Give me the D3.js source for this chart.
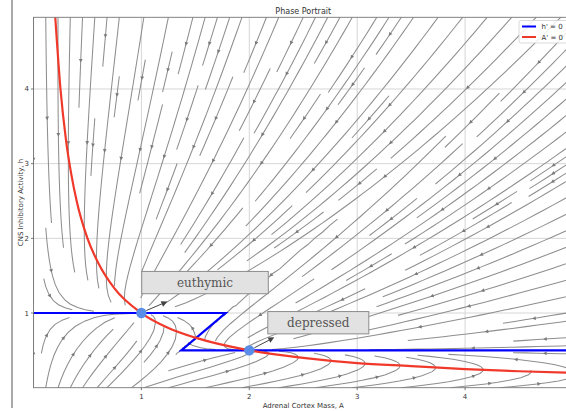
<!DOCTYPE html>
<html>
<head>
<meta charset="utf-8">
<script src="https://cdn.jsdelivr.net/npm/d3@7"></script>
<style>
  body { margin: 0; background: #fff; }
  svg { display: block; }
  text { font-family: "DejaVu Sans", sans-serif; fill: #333; }
</style>
</head>
<body>
<svg id="chart" width="566" height="411"></svg>
<script>
// ---- tick values ----
const xTicks = [1, 2, 3, 4];
const yTicks = [1, 2, 3, 4];
const xDomain = [0, 5];
const yDomain = [0, 4.96];

// ---- h' = 0 nullcline (hysteretic switch) ----
const hNullA = [0, 1.78, 1.37, 5];
const hNullH = [1, 1, 0.5, 0.5];

// ---- A' = 0 nullcline samples ----
const aNullA = [0.2, 0.25, 0.3, 0.35, 0.4, 0.5, 0.6, 0.75, 1, 1.25, 1.5, 2, 2.5, 3, 3.5, 4, 4.5, 5];
const aNullH = [5, 4, 3.33, 2.86, 2.5, 2, 1.67, 1.33, 1, 0.8, 0.67, 0.5, 0.4, 0.33, 0.29, 0.25, 0.22, 0.2];

// ---- steady states ----
const fixedA = [1, 2];
const fixedH = [1, 0.5];
const fixedLabels = ["euthymic", "depressed"];

// ---- legend ----
const legendLabels = ["h' = 0", "A' = 0"];
const legendColors = ["#0000ff", "#f0392b"];

// ---- model parameters ----
const hHigh = 1, hLow = 0.5;                    // the two inhibitory levels
const switchAtLow = 1.37, switchAtHigh = 1.78;  // switching mass at h = 0.5 / h = 1
const gainH = 1.7;                              // coupling of the h relaxation to A*h

function velocity(A, h) {
  const dA = A * (1 - A * h);
  const thr = switchAtLow + (switchAtHigh - switchAtLow) * (h - hLow) / (hHigh - hLow);
  const target = A < thr ? hHigh : hLow;
  const dh = (1 + gainH * A * h) * (target - h);
  return [dA, dh];
}

// ---- layout ----
const PL = 33.5, PR = 573, PT = 17.3, PB = 387.7;
const x = d3.scaleLinear().domain(xDomain).range([PL, PR]);
const y = d3.scaleLinear().domain(yDomain).range([PB, PT]);

const svg = d3.select("#chart");

// notebook cell border
svg.append("line").attr("x1", 12).attr("x2", 12).attr("y1", 0).attr("y2", 408)
  .attr("stroke", "#555").attr("stroke-width", 1);

svg.append("defs").append("clipPath").attr("id", "plotclip").append("rect")
  .attr("x", PL).attr("y", PT).attr("width", PR - PL).attr("height", PB - PT);

// grid
const grid = svg.append("g");
grid.selectAll(".gx").data(xTicks).join("line")
  .attr("x1", d => x(d)).attr("x2", d => x(d)).attr("y1", PT).attr("y2", PB)
  .attr("stroke", "#d6d6d6").attr("stroke-width", 1);
grid.selectAll(".gy").data(yTicks).join("line")
  .attr("x1", PL).attr("x2", PR).attr("y1", d => y(d)).attr("y2", d => y(d))
  .attr("stroke", "#d6d6d6").attr("stroke-width", 1);

// ---- streamplot (same seeding/mask scheme as matplotlib) ----
function streamplot(vel, x0, x1, y0, y1, density) {
  const nx = 100, ny = 100;
  const Wd = x1 - x0, Hd = y1 - y0;
  const mnx = Math.floor(30 * density), mny = Math.floor(30 * density);
  const mask = new Uint8Array(mnx * mny);
  const gx2m = (mnx - 1) / (nx - 1), gy2m = (mny - 1) / (ny - 1);
  const minlength = 0.1, maxlength = 4.0;
  let traj = [], cur = null;
  const OOB = { t: "oob" }, TERM = { t: "term" }, INV = { t: "inv" };
  const within = (xg, yg) => xg >= 0 && xg <= nx - 1 && yg >= 0 && yg <= ny - 1;
  const g2m = (xg, yg) => [Math.round(xg * gx2m), Math.round(yg * gy2m)];

  function updateTraj(xg, yg) {
    if (!within(xg, yg)) throw INV;
    const [xm, ym] = g2m(xg, yg);
    if (!cur || cur[0] !== xm || cur[1] !== ym) {
      const k = ym * mnx + xm;
      if (mask[k] === 0) { traj.push(k); mask[k] = 1; cur = [xm, ym]; }
      else throw INV;
    }
  }
  function fwd(xg, yg) {
    if (!within(xg, yg)) throw OOB;
    const A = x0 + xg * Wd / (nx - 1), h = y0 + yg * Hd / (ny - 1);
    const [u, v] = vel(A, h);
    const ug = u * (nx - 1) / Wd, vg = v * (ny - 1) / Hd;
    const sp = Math.hypot(ug / (nx - 1), vg / (ny - 1));
    if (!(sp > 0) || !isFinite(sp)) throw TERM;
    return [ug / sp, vg / sp];
  }
  const bwd = (xg, yg) => { const r = fwd(xg, yg); return [-r[0], -r[1]]; };

  function euler(pts, f) {
    const [xi, yi] = pts[pts.length - 1];
    const [cx, cy] = f(xi, yi);
    const dsx = cx === 0 ? Infinity : (cx < 0 ? xi / -cx : (nx - 1 - xi) / cx);
    const dsy = cy === 0 ? Infinity : (cy < 0 ? yi / -cy : (ny - 1 - yi) / cy);
    const ds = Math.min(dsx, dsy);
    pts.push([xi + cx * ds, yi + cy * ds]);
    return ds;
  }
  function rk12(xs, ys, f) {
    const maxerror = 0.003;
    const maxds = Math.min(1 / mnx, 1 / mny, 0.1);
    let ds = maxds, stotal = 0, xi = xs, yi = ys, iter = 0;
    const pts = [];
    while (iter++ < 20000) {
      let k1, k2;
      try {
        if (within(xi, yi)) pts.push([xi, yi]); else throw OOB;
        k1 = f(xi, yi);
        k2 = f(xi + ds * k1[0], yi + ds * k1[1]);
      } catch (e) {
        if (e === OOB && pts.length) {
          try { stotal += euler(pts, f); } catch (e2) {}
        }
        break;
      }
      const dx1 = ds * k1[0], dy1 = ds * k1[1];
      const dx2 = ds * 0.5 * (k1[0] + k2[0]), dy2 = ds * 0.5 * (k1[1] + k2[1]);
      const err = Math.hypot((dx2 - dx1) / (nx - 1), (dy2 - dy1) / (ny - 1));
      if (err < maxerror) {
        xi += dx2; yi += dy2;
        try { updateTraj(xi, yi); } catch (e) { break; }
        if (stotal + ds > maxlength) break;
        stotal += ds;
      }
      ds = err === 0 ? maxds : Math.min(maxds, 0.85 * ds * Math.sqrt(maxerror / err));
    }
    return [stotal, pts];
  }
  function integrate(xg, yg) {
    traj = [];
    try { updateTraj(xg, yg); } catch (e) { return null; }
    let stotal = 0;
    const [s1, b] = rk12(xg, yg, bwd);
    stotal += s1;
    let pts = b.slice().reverse();
    cur = g2m(xg, yg);
    const [s2, f] = rk12(xg, yg, fwd);
    stotal += s2;
    pts = pts.concat(f.slice(1));
    if (stotal > minlength) return pts;
    for (const k of traj) mask[k] = 0;
    return null;
  }
  function* startPoints(nxm, nym) {
    let xfirst = 0, yfirst = 1, xlast = nxm - 1, ylast = nym - 1;
    let px = 0, py = 0, dir = "right";
    for (let i = 0; i < nxm * nym; i++) {
      yield [px, py];
      if (dir === "right") { px += 1; if (px >= xlast) { xlast -= 1; dir = "up"; } }
      else if (dir === "up") { py += 1; if (py >= ylast) { ylast -= 1; dir = "left"; } }
      else if (dir === "left") { px -= 1; if (px <= xfirst) { xfirst += 1; dir = "down"; } }
      else { py -= 1; if (py <= yfirst) { yfirst += 1; dir = "right"; } }
    }
  }
  const out = [];
  for (const [xm, ym] of startPoints(mnx, mny)) {
    if (mask[ym * mnx + xm] === 0) {
      const xg = xm * (nx - 1) / (mnx - 1), yg = ym * (ny - 1) / (mny - 1);
      const t = integrate(xg, yg);
      if (t) out.push(t.map(([a, b]) => [x0 + a * Wd / (nx - 1), y0 + b * Hd / (ny - 1)]));
    }
  }
  return out;
}

const lines = streamplot(velocity, xDomain[0], xDomain[1], yDomain[0], yDomain[1], 1.5);

const plot = svg.append("g").attr("clip-path", "url(#plotclip)");
const lineGen = d3.line().x(d => x(d[0])).y(d => y(d[1]));

plot.append("g").selectAll("path").data(lines).join("path")
  .attr("d", lineGen)
  .attr("fill", "none").attr("stroke", "#8e8e8e").attr("stroke-width", 1.05);

// arrowheads at mid arc length
const heads = [];
for (const t of lines) {
  if (t.length < 2) continue;
  const s = [];
  let acc = 0;
  for (let i = 1; i < t.length; i++) {
    acc += Math.hypot(t[i][0] - t[i - 1][0], t[i][1] - t[i - 1][1]);
    s.push(acc);
  }
  let n = d3.bisectLeft(s, acc / 2);
  n = Math.min(n, t.length - 2);
  const tail = t[n];
  const head = [(t[n][0] + t[n + 1][0]) / 2, (t[n][1] + t[n + 1][1]) / 2];
  heads.push({ tail, head });
}
plot.append("g").selectAll("path").data(heads).join("path")
  .attr("d", d => {
    const tx = x(d.tail[0]), ty = y(d.tail[1]), hx = x(d.head[0]), hy = y(d.head[1]);
    let dx = hx - tx, dy = hy - ty;
    const L = Math.hypot(dx, dy) || 1;
    dx /= L; dy /= L;
    const len = 3.6, hw = 1.9;
    const bx = hx - dx * len, by = hy - dy * len;
    return `M${hx},${hy}L${bx - dy * hw},${by + dx * hw}L${bx + dy * hw},${by - dx * hw}Z`;
  })
  .attr("fill", "#7a7a7a");

// nullclines
const hNull = hNullA.map((a, i) => [a, hNullH[i]]);
const aNull = aNullA.map((a, i) => [a, aNullH[i]]);
plot.append("path").datum(hNull).attr("d", lineGen)
  .attr("fill", "none").attr("stroke", legendColors[0]).attr("stroke-width", 2.2);
plot.append("path").datum(aNull)
  .attr("d", d3.line().x(d => x(d[0])).y(d => y(d[1])).curve(d3.curveMonotoneX))
  .attr("fill", "none").attr("stroke", legendColors[1]).attr("stroke-width", 2.2);

// steady states
plot.selectAll(".fp").data(fixedA).join("circle")
  .attr("cx", d => x(d)).attr("cy", (d, i) => y(fixedH[i])).attr("r", 5.2)
  .attr("fill", "#5a8de8");

// annotations: box offsets relative to each state
const boxes = [
  { w: 126.6, h: 22.3, dx: 0.3, dy: -41.6, ax: 5, ay: -2.5, hx: 26, hy: -11.5 },
  { w: 101, h: 22.3, dx: 18.5, dy: -38.8, ax: 5, ay: -2.5, hx: 25, hy: -13 }
];
const ann = svg.append("g");
fixedLabels.forEach((lab, i) => {
  const px = x(fixedA[i]), py = y(fixedH[i]);
  const b = boxes[i];
  const sx = px + b.ax, sy = py + b.ay, ex = px + b.hx, ey = py + b.hy;
  let ux = ex - sx, uy = ey - sy; const L = Math.hypot(ux, uy); ux /= L; uy /= L;
  const bl = 6, bw = 3;
  ann.append("line").attr("x1", sx).attr("y1", sy).attr("x2", ex - ux * bl).attr("y2", ey - uy * bl)
    .attr("stroke", "#444").attr("stroke-width", 1);
  ann.append("path")
    .attr("d", `M${ex},${ey}L${ex - ux * bl - uy * bw},${ey - uy * bl + ux * bw}L${ex - ux * bl + uy * bw},${ey - uy * bl - ux * bw}Z`)
    .attr("fill", "#444");
  const bx = px + b.dx, by = py + b.dy;
  ann.append("rect").attr("x", bx).attr("y", by).attr("width", b.w).attr("height", b.h)
    .attr("fill", "#e2e2e2").attr("stroke", "#8c8c8c").attr("stroke-width", 1);
  ann.append("text").attr("x", bx + b.w / 2).attr("y", by + b.h / 2 + 4.2)
    .attr("text-anchor", "middle")
    .style("font-family", "'DejaVu Serif', serif").style("font-size", "12px").style("fill", "#555")
    .text(lab);
});

// spines
svg.append("rect").attr("x", PL).attr("y", PT).attr("width", PR - PL).attr("height", PB - PT)
  .attr("fill", "none").attr("stroke", "#777").attr("stroke-width", 0.9);

// ticks and labels
const ax = svg.append("g");
ax.selectAll(".tx").data(xTicks).join("line")
  .attr("x1", d => x(d)).attr("x2", d => x(d)).attr("y1", PB).attr("y2", PB + 2.5)
  .attr("stroke", "#555").attr("stroke-width", 0.8);
ax.selectAll(".lx").data(xTicks).join("text")
  .attr("x", d => x(d)).attr("y", PB + 11).attr("text-anchor", "middle")
  .style("font-size", "7px").text(d => d);
ax.selectAll(".ty").data(yTicks).join("line")
  .attr("x1", PL - 2.5).attr("x2", PL).attr("y1", d => y(d)).attr("y2", d => y(d))
  .attr("stroke", "#555").attr("stroke-width", 0.8);
ax.selectAll(".ly").data(yTicks).join("text")
  .attr("x", PL - 4.5).attr("y", d => y(d) + 2.5).attr("text-anchor", "end")
  .style("font-size", "7px").text(d => d);

svg.append("text").attr("x", (PL + PR) / 2).attr("y", 407.5).attr("text-anchor", "middle")
  .style("font-size", "7px").text("Adrenal Cortex Mass, A");
svg.append("text").attr("transform", `translate(22.5,${(PT + PB) / 2}) rotate(-90)`)
  .attr("text-anchor", "middle").style("font-size", "7px").text("CNS Inhibitory Activity, h");
svg.append("text").attr("x", (PL + PR) / 2).attr("y", 14).attr("text-anchor", "middle")
  .style("font-size", "8px").text("Phase Portrait");

// legend
const lg = svg.append("g");
lg.append("rect").attr("x", 519).attr("y", 20.5).attr("width", 52).attr("height", 22.5).attr("rx", 2)
  .attr("fill", "#fff").attr("fill-opacity", 0.85).attr("stroke", "#d0d0d0").attr("stroke-width", 0.8);
legendLabels.forEach((lab, i) => {
  const yy = 26.5 + i * 10.5;
  lg.append("line").attr("x1", 522).attr("x2", 536).attr("y1", yy).attr("y2", yy)
    .attr("stroke", legendColors[i]).attr("stroke-width", 2);
  lg.append("text").attr("x", 541.5).attr("y", yy + 2.5).style("font-size", "7px").text(lab);
});
</script>
</body>
</html>
